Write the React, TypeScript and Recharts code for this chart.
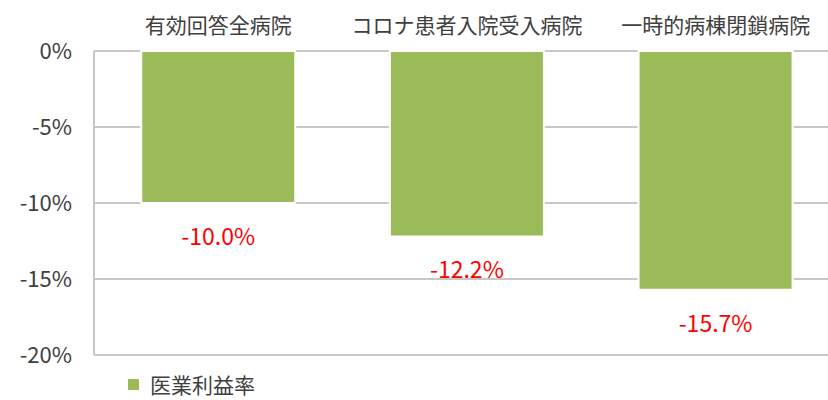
import React from 'react';
import { BarChart, Bar, XAxis, YAxis, CartesianGrid, Legend, LabelList } from 'recharts';

// categories and values (医業利益率, %)
const categories = ['有効回答全病院', 'コロナ患者入院受入病院', '一時的病棟閉鎖病院'];
const profitRates = [-10.0, -12.2, -15.7];
const yTicks = [0, -5, -10, -15, -20];
const frameTicks = [0, 1, 2, 3];
const seriesName = '医業利益率';

const BAR_COLOR = '#9BBB59';
const GRID_COLOR = '#C8C8C8';
const TEXT_COLOR = '#404040';
const FONT = '"Noto Sans CJK JP", "Noto Sans", sans-serif';

const data = categories.map((name, i) => ({ name, rate: profitRates[i], pos: i + 0.5 }));

const renderRateLabel = (props: any) => {
  const { x, y, width, height, value } = props;
  const bottom = Math.max(y, y + height);
  return (
    <text
      x={x + width / 2}
      y={bottom + 32}
      textAnchor="middle"
      dominantBaseline="central"
      fill="#FF0000"
      fontSize={23}
      fontFamily={FONT}
    >
      {`${Number(value).toFixed(1)}%`}
    </text>
  );
};

const renderLegend = () => (
  <div style={{ display: 'flex', alignItems: 'center', fontFamily: FONT, height: 30 }}>
    <span style={{ width: 11, height: 11, background: BAR_COLOR, display: 'inline-block' }} />
    <span style={{ marginLeft: 11, fontSize: 21, color: TEXT_COLOR, lineHeight: '30px' }}>{seriesName}</span>
  </div>
);

const App = () => {
  return (
    <div style={{ width: 828, height: 400, overflow: 'hidden', fontFamily: FONT, background: '#fff' }}>
      <style>{'body{margin:0;overflow:hidden}'}</style>
      <BarChart
        width={860}
        height={400}
        data={data}
        margin={{ top: 0, right: 20, left: 0, bottom: 45 }}
        barCategoryGap="19%"
      >
        <CartesianGrid xAxisId="cat" vertical={false} stroke={GRID_COLOR} strokeWidth={2} />
        <XAxis
          xAxisId="frame"
          type="number"
          dataKey="pos"
          orientation="top"
          domain={[0, 3]}
          ticks={frameTicks}
          allowDataOverflow
          height={0}
          tickSize={7}
          tick={() => <g />}
          axisLine={{ stroke: GRID_COLOR, strokeWidth: 2 }}
          tickLine={{ stroke: GRID_COLOR, strokeWidth: 2 }}
        />
        <XAxis
          xAxisId="cat"
          dataKey="name"
          orientation="top"
          height={51}
          axisLine={false}
          tickLine={false}
          tickSize={0}
          tickMargin={18}
          interval={0}
          tick={{ fontSize: 21, fill: TEXT_COLOR, fontFamily: FONT }}
        />
        <YAxis
          domain={[-20, 0]}
          ticks={yTicks}
          width={94}
          tickFormatter={(v) => `${v}%`}
          axisLine={{ stroke: GRID_COLOR, strokeWidth: 2 }}
          tickLine={false}
          tickSize={0}
          tickMargin={22}
          tick={{ fontSize: 22, fill: TEXT_COLOR, fontFamily: FONT }}
        />
        <Legend
          layout="horizontal"
          verticalAlign="middle"
          content={renderLegend}
          wrapperStyle={{ left: 128, top: 369, bottom: 'auto', width: 'auto', height: 30 }}
        />
        <Bar
          xAxisId="cat"
          dataKey="rate"
          name={seriesName}
          fill={BAR_COLOR}
          stroke="#fff"
          strokeWidth={2}
          isAnimationActive={false}
        >
          <LabelList dataKey="rate" content={renderRateLabel} />
        </Bar>
      </BarChart>
    </div>
  );
};

export default App;
